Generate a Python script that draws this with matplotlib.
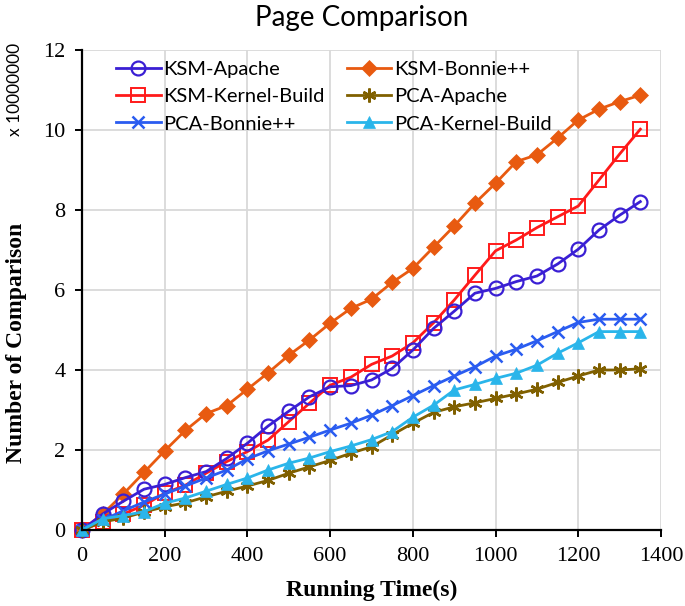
import matplotlib
matplotlib.use("Agg")
import matplotlib.pyplot as plt

# running time (s), sampled every 50 s
tiempo = list(range(0, 1400, 50))

ksm_apache = [0, 0.4, 0.72, 1.02, 1.14, 1.31, 1.46, 1.79, 2.17, 2.6, 2.97, 3.33, 3.58, 3.61,
              3.75, 4.04, 4.5, 5.04, 5.47, 5.92, 6.04, 6.21, 6.35, 6.65, 7.02, 7.5, 7.87, 8.21]
ksm_bonnie = [0, 0.4, 0.9, 1.44, 1.98, 2.49, 2.91, 3.11, 3.52, 3.93, 4.37, 4.75, 5.17, 5.54,
              5.77, 6.19, 6.54, 7.07, 7.6, 8.17, 8.67, 9.21, 9.38, 9.8, 10.25, 10.52, 10.71, 10.87]
ksm_kernel = [0, 0.2, 0.4, 0.62, 0.92, 1.12, 1.42, 1.71, 1.96, 2.25, 2.71, 3.17, 3.62, 3.82,
              4.14, 4.35, 4.68, 5.18, 5.75, 6.37, 6.98, 7.25, 7.56, 7.83, 8.1, 8.75, 9.4, 10.02]
pca_apache = [0, 0.2, 0.3, 0.45, 0.58, 0.68, 0.83, 0.97, 1.1, 1.24, 1.42, 1.58, 1.74, 1.92,
              2.08, 2.38, 2.67, 2.94, 3.08, 3.18, 3.29, 3.4, 3.52, 3.69, 3.85, 4.0, 4.0, 4.03]
pca_bonnie = [0, 0.25, 0.48, 0.7, 0.9, 1.1, 1.3, 1.5, 1.78, 1.98, 2.15, 2.32, 2.5, 2.67,
              2.87, 3.11, 3.36, 3.61, 3.85, 4.08, 4.35, 4.52, 4.73, 4.96, 5.19, 5.27, 5.27, 5.27]
pca_kernel = [0, 0.28, 0.36, 0.46, 0.67, 0.8, 0.97, 1.14, 1.3, 1.5, 1.67, 1.8, 1.96, 2.1,
              2.26, 2.46, 2.82, 3.12, 3.5, 3.64, 3.79, 3.92, 4.12, 4.42, 4.68, 4.96, 4.96, 4.96]

xticks = [0, 200, 400, 600, 800, 1000, 1200, 1400]
yticks = [0, 2, 4, 6, 8, 10, 12]

fig = plt.figure(figsize=(6.85, 6.06), dpi=100)
ax = fig.add_axes([0.1197, 0.1254, 0.8453, 0.7921])

# orden: como aparecen en la leyenda (fila por fila)
series = [
    (ksm_apache, "KSM-Apache", "#3a1fd4", dict(marker="o", mfc="none", ms=10, mew=1.6)),
    (ksm_kernel, "KSM-Kernel-Build", "#ff1a1a", dict(marker="s", mfc="none", ms=10, mew=1.4)),
    (pca_bonnie, "PCA-Bonnie++", "#2a5cf0", dict(marker="x", ms=9, mew=1.8)),
    (ksm_bonnie, "KSM-Bonnie++", "#e85a10", dict(marker="D", ms=8, mew=0.5)),
    (pca_apache, "PCA-Apache", "#806000", dict(marker=(6, 2, 0), ms=10, mew=1.8)),
    (pca_kernel, "PCA-Kernel-Build", "#2ab5ea", dict(marker="^", ms=9, mew=0.5)),
]

zorders = {"KSM-Bonnie++": 3, "KSM-Kernel-Build": 4, "KSM-Apache": 5,
           "PCA-Bonnie++": 6, "PCA-Apache": 7, "PCA-Kernel-Build": 8}

lineas = []
for valores, nombre, color, estilo in series:
    l, = ax.plot(tiempo, valores, color=color, lw=2.0, label=nombre,
                 mec=color, zorder=zorders[nombre], clip_on=False, **estilo)
    lineas.append(l)

ax.set_xlim(0, 1400)
ax.set_ylim(0, 12)
ax.set_xticks(xticks)
ax.set_yticks(yticks)
ax.grid(True, color="#d9d9d9", lw=1.3)
ax.set_axisbelow(True)

for lado in ["top", "right"]:
    ax.spines[lado].set_visible(False)
for lado in ["left", "bottom"]:
    ax.spines[lado].set_linewidth(1.6)
    ax.spines[lado].set_zorder(10)

ax.tick_params(direction="out", length=5, width=1.4, pad=7)
for lbl in ax.get_xticklabels() + ax.get_yticklabels():
    lbl.set_fontfamily("Liberation Serif")
    lbl.set_fontsize(16)

ax.set_xlabel("Running Time(s)", family="Liberation Serif", fontsize=17,
              fontweight="bold", labelpad=10)
ax.set_ylabel("Number of Comparison", family="Liberation Serif", fontsize=17,
              fontweight="bold")
ax.yaxis.set_label_coords(-0.095, 0.39)

fig.text(0.528, 0.97, "Page Comparison", family="Lato", fontsize=20,
         ha="center", va="center")
fig.text(0.022, 0.93, "x 10000000", family="Lato", fontsize=12.5,
         rotation=90, ha="center", va="top")

ley = ax.legend(handles=lineas, loc="upper left", ncol=2, frameon=False,
                prop={"family": "Lato", "size": 14.5}, bbox_to_anchor=(0.04, 1.0),
                handlelength=2.2, handletextpad=0.15, columnspacing=1.1,
                labelspacing=0.5, borderaxespad=0.15)

fig.savefig("out.png", dpi=100)
